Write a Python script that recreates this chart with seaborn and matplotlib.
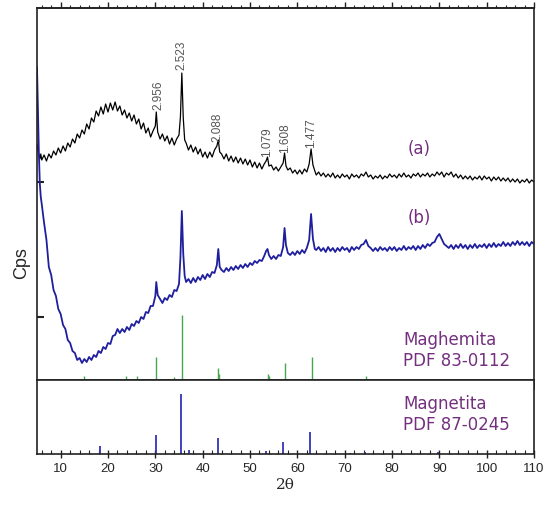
import numpy as np
import pandas as pd
import matplotlib
matplotlib.use("Agg")
import matplotlib.pyplot as plt
import seaborn as sns
from matplotlib.ticker import MultipleLocator, NullFormatter

# ---------------- data ----------------
tth = [5.0, 5.2, 5.4, 5.6, 5.8,
       6.0, 6.5, 7.0, 7.5, 8.0, 8.5, 9.0, 9.5, 10.0, 10.5, 11.0, 11.5, 12.0, 12.5, 13.0, 13.5,
       14.0, 14.5, 15.0, 15.5, 16.0, 16.5, 17.0, 17.5, 18.0, 18.5, 19.0, 19.5, 20.0, 20.5,
       21.0, 21.5, 22.0, 22.5, 23.0, 23.5, 24.0, 24.5, 25.0, 25.5, 26.0, 26.5, 27.0, 27.5,
       28.0, 28.5, 29.0, 29.5,
       30.0, 30.2, 30.5,
       31.0, 31.5, 32.0, 32.5, 33.0, 33.5, 34.0, 34.5, 35.0,
       35.3, 35.6, 35.9, 36.2,
       36.5, 37.0, 37.5, 38.0, 38.5, 39.0, 39.5, 40.0, 40.5, 41.0, 41.5, 42.0, 42.5, 43.0,
       43.3, 43.6,
       44.0, 44.5, 45.0, 45.5, 46.0, 46.5, 47.0, 47.5, 48.0, 48.5, 49.0, 49.5, 50.0, 50.5,
       51.0, 51.5, 52.0, 52.5, 53.0,
       53.4, 53.7,
       54.0, 54.5, 55.0, 55.5, 56.0, 56.5, 57.0,
       57.3, 57.6,
       58.0, 58.5, 59.0, 59.5, 60.0, 60.5, 61.0, 61.5, 62.0, 62.5,
       62.9, 63.3, 63.7,
       64.0, 64.5, 65.0, 65.5, 66.0, 66.5, 67.0, 67.5, 68.0, 68.5, 69.0, 69.5, 70.0, 70.5,
       71.0, 71.5, 72.0, 72.5, 73.0, 73.5, 74.0, 74.5, 75.0, 75.5, 76.0, 76.5, 77.0, 77.5,
       78.0, 78.5, 79.0, 79.5, 80.0, 80.5, 81.0, 81.5, 82.0, 82.5, 83.0, 83.5, 84.0, 84.5,
       85.0, 85.5, 86.0, 86.5, 87.0, 87.5, 88.0, 88.5, 89.0, 89.5, 90.0, 90.5, 91.0, 91.5,
       92.0, 92.5, 93.0, 93.5, 94.0, 94.5, 95.0, 95.5, 96.0, 96.5, 97.0, 97.5, 98.0, 98.5,
       99.0, 99.5, 100.0, 100.5, 101.0, 101.5, 102.0, 102.5, 103.0, 103.5, 104.0, 104.5,
       105.0, 105.5, 106.0, 106.5, 107.0, 107.5, 108.0, 108.5, 109.0, 109.5, 110.0]

cps_a = [236, 229, 225, 221, 226,
         220, 225, 219, 226, 222, 229, 225, 232, 227, 234, 229, 237, 233, 241, 237, 246,
         242, 250, 246, 256, 251, 262, 258, 269, 264, 273, 266, 276, 268, 277,
         270, 278, 269, 274, 265, 270, 262, 267, 259, 265, 256, 261, 251, 257,
         247, 252, 243, 249,
         254, 268, 248,
         241, 246, 239, 244, 236, 242, 235, 241, 245,
         263, 307, 262, 240,
         237, 230, 235, 228, 233, 226, 231, 223, 228, 222, 228, 223, 230, 234,
         240, 228,
         226, 221, 226, 219, 224, 218, 223, 217, 222, 216, 221, 215, 220, 213,
         218, 212, 217, 211, 216,
         219, 223,
         214, 215, 210, 213, 209, 213, 217,
         227, 214,
         210, 212, 207, 210, 206, 210, 206, 211, 208, 216,
         231, 215, 209,
         205, 208, 204, 207, 203, 206, 203, 207, 202, 205, 202, 206, 203, 205,
         201, 206, 203, 205, 202, 206, 204, 208, 203, 205, 201, 204, 202, 205,
         201, 204, 202, 206, 203, 205, 202, 206, 203, 207, 203, 205, 202, 206,
         204, 207, 203, 206, 204, 207, 203, 206, 204, 208, 205, 208, 203, 207,
         205, 208, 203, 206, 202, 205, 201, 204, 201, 204, 200, 203, 201, 204,
         200, 204, 201, 203, 199, 203, 200, 203, 199, 202, 199, 202,
         198, 201, 198, 201, 197, 200, 198, 201, 197, 200, 198]

cps_b = [313, 268, 226, 196, 183,
         176, 157, 140, 113, 105, 90, 84, 71, 66, 55, 51, 40, 37, 29, 27, 20,
         22, 17, 21, 18, 23, 20, 25, 23, 29, 27, 33, 31, 37, 36,
         44, 45, 51, 47, 51, 48, 53, 50, 56, 54, 59, 57, 63, 61,
         68, 67, 74, 74,
         84, 98, 85,
         81, 77, 82, 80, 85, 83, 90, 89, 96,
         122, 169, 126, 104,
         98, 101, 97, 102, 98, 103, 100, 105, 101, 106, 103, 108, 107, 115,
         131, 113,
         110, 108, 112, 109, 113, 110, 114, 111, 115, 112, 116, 113, 117, 115,
         119, 117, 120, 119, 124,
         129, 131,
         125, 121, 124, 121, 125, 124, 133,
         152, 135,
         127, 125, 128, 125, 129, 126, 130, 127, 132, 140,
         166, 141, 131,
         130, 133, 129, 132, 128, 133, 129, 132, 128, 132, 129, 133, 130, 132,
         128, 133, 130, 133, 131, 135, 136, 140, 134, 132, 129, 132, 129, 133,
         130, 132, 129, 133, 130, 133, 129, 132, 130, 134, 130, 133, 131, 134,
         130, 134, 131, 135, 132, 136, 134, 137, 138, 143, 146, 141, 136, 134,
         132, 135, 131, 135, 132, 136, 132, 135, 131, 135, 132, 136, 132, 135,
         133, 136, 132, 136, 133, 137, 133, 136, 134, 138, 134, 137,
         134, 138, 135, 139, 135, 138, 135, 138, 134, 138, 136]

# Maghemita reference pattern (PDF 83-0112)
maghemita_tth = [12.5, 15.0, 18.5, 23.8, 26.1, 30.2, 34.0, 35.6, 37.2, 43.3, 43.5,
                 53.7, 54.0, 57.3, 63.0, 71.4, 74.5]
maghemita_int = [1.5, 4, 1, 4, 4, 23, 3, 65, 1.5, 12, 6, 6, 4, 17, 23, 1.5, 4]

# Magnetita reference pattern (PDF 87-0245)
magnetita_tth = [18.4, 30.1, 35.5, 37.2, 43.2, 53.4, 57.0, 62.6, 71.2, 74.2, 89.8]
magnetita_int = [8, 19, 60, 4, 16, 3, 12, 22, 1, 2, 2.5]

# d-spacing annotations on curve (a)
peak_labels = ["2.956", "2.523", "2.088", "1.079", "1.608", "1.477"]
peak_tth = [30.6, 35.5, 43.2, 53.5, 57.3, 62.9]
peak_cps = [271, 311, 239, 224, 228, 233]

# ---------------- figure ----------------
sns.set_theme(style="white")
plt.rcParams["font.family"] = ["Liberation Sans", "DejaVu Sans"]

fig = plt.figure(figsize=(5.5, 5.06), dpi=100)
gs = fig.add_gridspec(2, 1, height_ratios=[372, 74], hspace=0,
                      left=37/550, right=534/550, top=1-9/506, bottom=1-455/506)
ax = fig.add_subplot(gs[0])
axb = fig.add_subplot(gs[1], sharex=ax)

df = pd.DataFrame({"tth": tth, "a": cps_a, "b": cps_b})
sns.lineplot(data=df, x="tth", y="a", ax=ax, color="black", lw=0.9, sort=False)
sns.lineplot(data=df, x="tth", y="b", ax=ax, color="#1f1f9e", lw=1.3, sort=False)

ax.vlines(maghemita_tth, 0, maghemita_int, color="#45a84f", lw=1.0)
axb.vlines(magnetita_tth, 0, magnetita_int, color="#3434b4", lw=1.3)

for lab, x, y in zip(peak_labels, peak_tth, peak_cps):
    ax.text(x, y, lab, rotation=90, ha="center", va="bottom", fontsize=8.5,
            color="#555555")

purple = "#74307f"
ax.text(85.8, 232, "(a)", color=purple, fontsize=12, ha="center", va="center",
        family="DejaVu Sans")
ax.text(85.8, 163, "(b)", color=purple, fontsize=12, ha="center", va="center",
        family="DejaVu Sans")
ax.text(82.3, 30.5, "Maghemita\nPDF 83-0112", color=purple, fontsize=12,
        ha="left", va="center", linespacing=1.2, family="DejaVu Sans")
axb.text(82.3, 40.5, "Magnetita\nPDF 87-0245", color=purple, fontsize=12,
         ha="left", va="center", linespacing=1.2, family="DejaVu Sans")

ax.set_xlim(5, 110)
ax.set_ylim(0, 372)
axb.set_ylim(0, 74)

for a in (ax, axb):
    for s in a.spines.values():
        s.set_color("#222222")
        s.set_linewidth(1.2)
        s.set_visible(True)
    a.set_xlabel("")
    a.set_ylabel("")

# top panel ticks
ax.set_yticks([63, 198])
ax.yaxis.set_major_formatter(NullFormatter())
ax.tick_params(axis="y", which="major", left=True, direction="in", length=5,
               width=1.5, color="#222222")
ax.xaxis.set_major_locator(MultipleLocator(10))
ax.xaxis.set_minor_locator(MultipleLocator(5))
ax.tick_params(axis="x", which="major", bottom=True, top=False, direction="out",
               length=7, width=1.2, color="#222222", labelbottom=False)
ax.tick_params(axis="x", which="minor", bottom=True, top=False, direction="out",
               length=4, width=1.0, color="#222222")

sec = ax.secondary_xaxis("top")
sec.xaxis.set_major_locator(MultipleLocator(10))
sec.xaxis.set_minor_locator(MultipleLocator(2))
sec.xaxis.set_major_formatter(NullFormatter())
sec.tick_params(axis="x", which="major", direction="out", length=4, width=1.0,
                color="#222222")
sec.tick_params(axis="x", which="minor", direction="out", length=2.5, width=0.8,
                color="#222222")
sec.spines["top"].set_linewidth(1.2)

# bottom panel ticks
axb.set_yticks([])
axb.xaxis.set_major_locator(MultipleLocator(10))
axb.xaxis.set_minor_locator(MultipleLocator(2))
axb.tick_params(axis="x", which="major", bottom=True, direction="inout", length=6,
                width=1.0, color="#222222", labelsize=9.5, pad=3)
axb.tick_params(axis="x", which="minor", bottom=True, direction="in", length=3,
                width=0.8, color="#222222")
axb.set_xticks(list(range(10, 111, 10)))
axb.set_xticklabels([str(v) for v in range(10, 111, 10)])
axb.set_xlim(5, 110)

axb.set_xlabel("2θ", family="DejaVu Serif", fontsize=11, labelpad=2)
fig.text(22/550, 1-263/506, "Cps", rotation=90, ha="center", va="center",
         fontsize=13)

fig.savefig("out.png", dpi=100)
